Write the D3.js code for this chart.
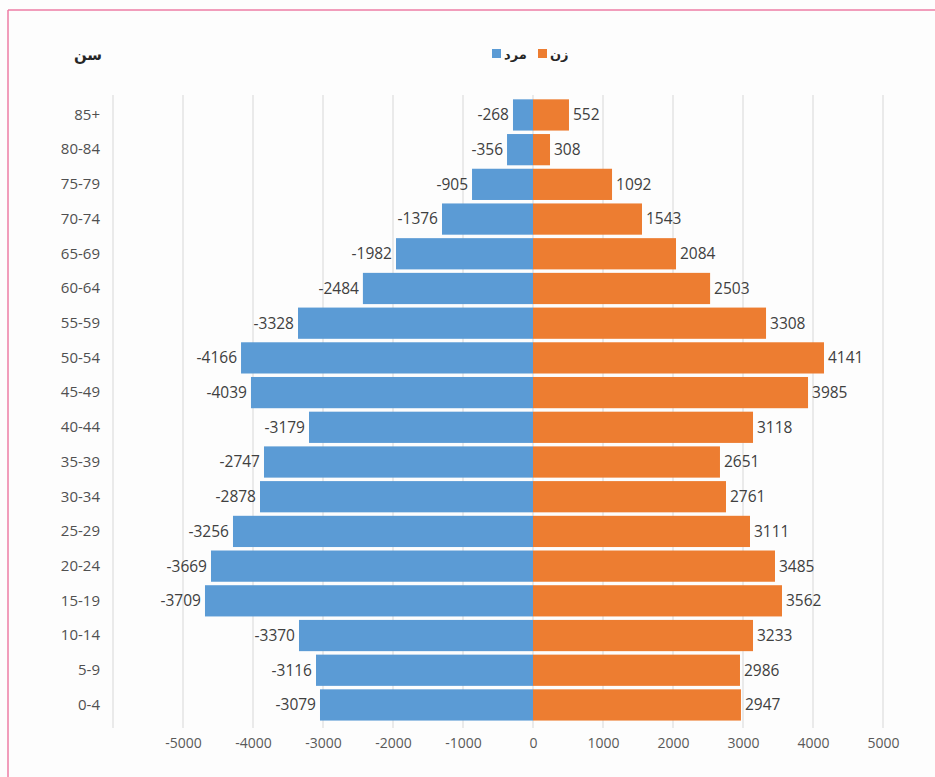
<!DOCTYPE html>
<html>
<head>
<meta charset="utf-8">
<script src="https://cdn.jsdelivr.net/npm/d3@7"></script>
<style>
  body { margin: 0; background: #fdfdfd; }
  svg text { font-family: "Open Sans", "Noto Sans", "DejaVu Sans", sans-serif; }
</style>
</head>
<body>
<div id="chart"></div>
<script>
// age groups, top to bottom
var ageGroups = ['85+', '80-84', '75-79', '70-74', '65-69', '60-64', '55-59', '50-54', '45-49',
  '40-44', '35-39', '30-34', '25-29', '20-24', '15-19', '10-14', '5-9', '0-4'];

// bar lengths as drawn in the picture
var maleBars = [-286, -371, -871, -1300, -1957, -2430, -3357, -4171, -4029,
  -3200, -3843, -3900, -4286, -4600, -4686, -3343, -3100, -3043];
var femaleBars = [514, 243, 1129, 1557, 2043, 2530, 3329, 4157, 3929,
  3143, 2671, 2757, 3100, 3457, 3557, 3143, 2957, 2971];

// data labels as printed
var maleLabels = [-268, -356, -905, -1376, -1982, -2484, -3328, -4166, -4039,
  -3179, -2747, -2878, -3256, -3669, -3709, -3370, -3116, -3079];
var femaleLabels = [552, 308, 1092, 1543, 2084, 2503, 3308, 4141, 3985,
  3118, 2651, 2761, 3111, 3485, 3562, 3233, 2986, 2947];

var xTicks = [-5000, -4000, -3000, -2000, -1000, 0, 1000, 2000, 3000, 4000, 5000];
var gridValues = [-6000, -5000, -4000, -3000, -2000, -1000, 0, 1000, 2000, 3000, 4000, 5000];

var legendItems = [
  { name: 'مرد', color: '#5B9BD5' },
  { name: 'زن', color: '#ED7D31' }
];

var width = 935, height = 777;
var svg = d3.select('#chart').append('svg')
  .attr('width', width)
  .attr('height', height);

// pink frame (top and left edges are visible)
svg.append('line').attr('x1', 8).attr('x2', width).attr('y1', 10).attr('y2', 10)
  .attr('stroke', '#EC7CA4').attr('stroke-width', 1.5);
svg.append('line').attr('x1', 8).attr('x2', 8).attr('y1', 10).attr('y2', height)
  .attr('stroke', '#EC7CA4').attr('stroke-width', 1.5);

var xScale = d3.scaleLinear().domain([-6000, 5000]).range([113, 883]);
var yScale = d3.scaleBand().domain(ageGroups).range([97.6, 722.3]).paddingInner(0.1).paddingOuter(0.05);

// grid
svg.append('g').selectAll('line')
  .data(gridValues)
  .enter().append('line')
    .attr('x1', function(d) { return xScale(d); })
    .attr('x2', function(d) { return xScale(d); })
    .attr('y1', 95)
    .attr('y2', 728)
    .attr('stroke', '#DEDEDE')
    .attr('stroke-width', 1.2);

// x axis labels (plain hyphen minus, as in the original)
var xAxis = d3.axisBottom(xScale)
  .tickValues(xTicks)
  .tickFormat(function(d) { return String(d); })
  .tickSize(0)
  .tickPadding(0);
var gx = svg.append('g')
  .attr('transform', 'translate(0, 738)')
  .call(xAxis);
gx.select('.domain').remove();
gx.selectAll('text').attr('fill', '#595959').style('font-size', '14px');

// y axis labels
var yAxis = d3.axisLeft(yScale).tickSize(0).tickPadding(0);
var gy = svg.append('g')
  .attr('transform', 'translate(100, 0)')
  .call(yAxis);
gy.select('.domain').remove();
gy.selectAll('text').attr('fill', '#505050').style('font-size', '15px');

// bars
svg.append('g').selectAll('rect')
  .data(ageGroups)
  .enter().append('rect')
    .attr('x', function(d, i) { return xScale(maleBars[i]); })
    .attr('y', function(d) { return yScale(d); })
    .attr('width', function(d, i) { return xScale(0) - xScale(maleBars[i]); })
    .attr('height', yScale.bandwidth())
    .attr('fill', '#5B9BD5');

svg.append('g').selectAll('rect')
  .data(ageGroups)
  .enter().append('rect')
    .attr('x', xScale(0))
    .attr('y', function(d) { return yScale(d); })
    .attr('width', function(d, i) { return xScale(femaleBars[i]) - xScale(0); })
    .attr('height', yScale.bandwidth())
    .attr('fill', '#ED7D31');

// data labels
svg.append('g').selectAll('text')
  .data(ageGroups)
  .enter().append('text')
    .attr('x', function(d, i) { return xScale(maleBars[i]) - 4; })
    .attr('y', function(d) { return yScale(d) + yScale.bandwidth() / 2; })
    .attr('dy', '0.35em')
    .attr('text-anchor', 'end')
    .attr('fill', '#404040')
    .style('font-size', '15.5px')
    .text(function(d, i) { return maleLabels[i]; });

svg.append('g').selectAll('text')
  .data(ageGroups)
  .enter().append('text')
    .attr('x', function(d, i) { return xScale(femaleBars[i]) + 4; })
    .attr('y', function(d) { return yScale(d) + yScale.bandwidth() / 2; })
    .attr('dy', '0.35em')
    .attr('text-anchor', 'start')
    .attr('fill', '#404040')
    .style('font-size', '15.5px')
    .text(function(d, i) { return femaleLabels[i]; });

// axis title
svg.append('text')
  .text('سن')
  .attr('x', 88)
  .attr('y', 55)
  .attr('dy', '0.35em')
  .attr('text-anchor', 'middle')
  .attr('fill', '#262626')
  .style('font-size', '15px')
  .style('font-weight', 'bold');

// legend
var legend = svg.append('g').attr('transform', 'translate(492, 54)');
var legendX = [0, 46];
legendItems.forEach(function(item, i) {
  var g = legend.append('g').attr('transform', 'translate(' + legendX[i] + ', 0)');
  g.append('rect')
    .attr('x', 0).attr('y', -5)
    .attr('width', 9).attr('height', 9)
    .attr('fill', item.color);
  g.append('text')
    .text(item.name)
    .attr('x', 12)
    .attr('dy', '0.35em')
    .attr('fill', '#262626')
    .style('font-size', '13px')
    .style('font-weight', 'bold');
});
</script>
</body>
</html>
